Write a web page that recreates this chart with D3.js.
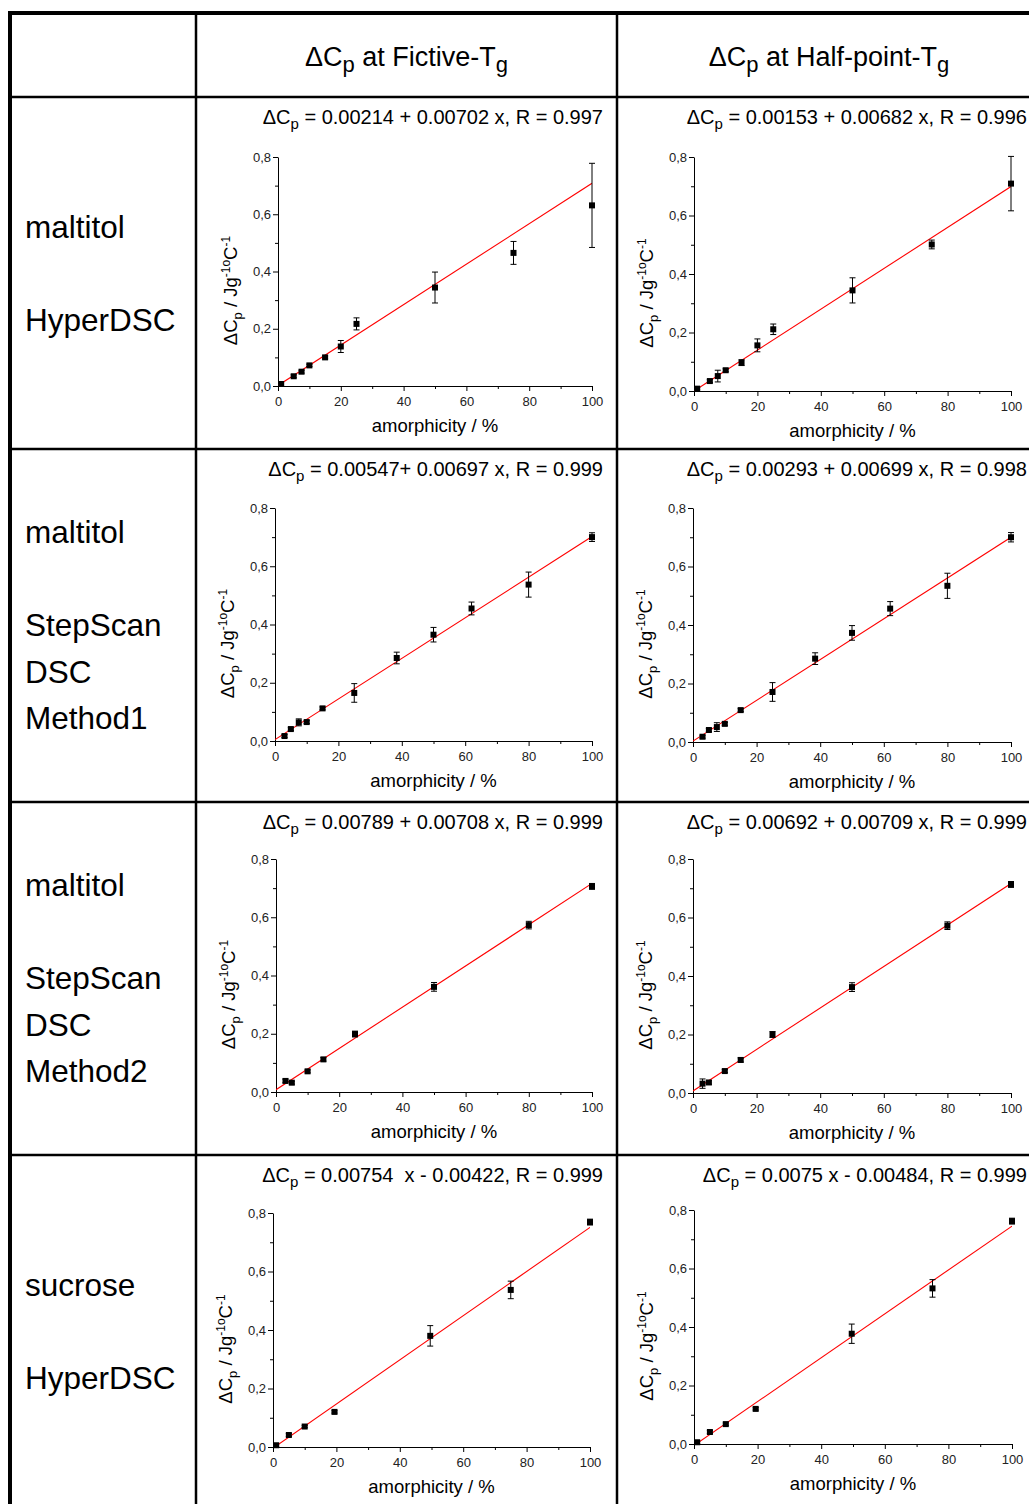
<!DOCTYPE html>
<html lang="en">
<head>
<meta charset="UTF-8">
<title>dCp vs amorphicity</title>
<script src="https://d3js.org/d3.v7.min.js"></script>
<style>
  body { margin: 0; background: #fff; }
  svg { display: block; font-family: "Liberation Sans", Arial, sans-serif; }
  text { white-space: pre; }
</style>
</head>
<body>
<div id="chart"></div>
<script>
// column heads and row labels
var columnHeads = ["Fictive", "Half-point"];
var rowLabels = [
    ["maltitol", "", "HyperDSC"],
    ["maltitol", "", "StepScan", "DSC", "Method1"],
    ["maltitol", "", "StepScan", "DSC", "Method2"],
    ["sucrose", "", "HyperDSC"]
];

// fit equations printed above each plot (after "ΔCp")
var fitTexts = [
    " = 0.00214 + 0.00702 x, R = 0.997", " = 0.00153 + 0.00682 x, R = 0.996",
    " = 0.00547+ 0.00697 x, R = 0.999", " = 0.00293 + 0.00699 x, R = 0.998",
    " = 0.00789 + 0.00708 x, R = 0.999", " = 0.00692 + 0.00709 x, R = 0.999",
    " = 0.00754  x - 0.00422, R = 0.999", " = 0.0075 x - 0.00484, R = 0.999"
];
// red fit line, value at 0 % and at 100 %
var fitAt0 = [0.002, 0.000, 0.005, 0.003, 0.008, 0.007, -0.004, -0.005];
var fitAt100 = [0.708, 0.699, 0.702, 0.700, 0.716, 0.716, 0.751, 0.745];

// maltitol HyperDSC
var maltHyperX = [1, 5, 7.5, 10, 15, 20, 25, 50, 75, 100];
var maltHyperFictiveY = [0.007, 0.034, 0.050, 0.072, 0.100, 0.138, 0.217, 0.344, 0.465, 0.631];
var maltHyperFictiveErr = [0.004, 0.005, 0.005, 0.004, 0.005, 0.021, 0.021, 0.054, 0.040, 0.147];
var maltHyperHalfY = [0.008, 0.034, 0.051, 0.071, 0.097, 0.156, 0.211, 0.344, 0.501, 0.709];
var maltHyperHalfErr = [0.004, 0.005, 0.020, 0.005, 0.010, 0.022, 0.018, 0.043, 0.015, 0.093];

// maltitol StepScan Method1
var maltStep1X = [3, 5, 7.5, 10, 15, 25, 38.4, 50, 62, 80, 100];
var maltStep1FictiveY = [0.017, 0.041, 0.064, 0.065, 0.112, 0.165, 0.285, 0.365, 0.455, 0.537, 0.700];
var maltStep1FictiveErr = [0.005, 0.005, 0.012, 0.005, 0.005, 0.032, 0.020, 0.025, 0.022, 0.043, 0.015];
var maltStep1HalfY = [0.018, 0.041, 0.051, 0.062, 0.109, 0.171, 0.285, 0.373, 0.456, 0.534, 0.700];
var maltStep1HalfErr = [0.005, 0.005, 0.015, 0.005, 0.005, 0.032, 0.020, 0.025, 0.024, 0.043, 0.016];

// maltitol StepScan Method2
var maltStep2X = [3, 5, 10, 15, 25, 50, 80, 100];
var maltStep2FictiveY = [0.038, 0.032, 0.071, 0.112, 0.199, 0.361, 0.573, 0.706];
var maltStep2FictiveErr = [0.006, 0.005, 0.005, 0.006, 0.010, 0.015, 0.013, 0.010];
var maltStep2HalfY = [0.032, 0.036, 0.075, 0.113, 0.200, 0.362, 0.572, 0.713];
var maltStep2HalfErr = [0.016, 0.006, 0.005, 0.007, 0.010, 0.015, 0.013, 0.010];

// sucrose HyperDSC
var sucHyperX = [1, 5, 10, 19.4, 49.6, 75, 100];
var sucHyperFictiveY = [0.006, 0.041, 0.070, 0.120, 0.380, 0.537, 0.769];
var sucHyperFictiveErr = [0.004, 0.005, 0.004, 0.004, 0.035, 0.030, 0.010];
var sucHyperHalfY = [0.006, 0.041, 0.068, 0.120, 0.377, 0.532, 0.762];
var sucHyperHalfErr = [0.004, 0.005, 0.004, 0.004, 0.033, 0.030, 0.010];

// axes
var xTicks = [0, 20, 40, 60, 80, 100];
var xMinor = [10, 30, 50, 70, 90];
var yTicks = [0, 0.2, 0.4, 0.6, 0.8];
var yMinor = [0.1, 0.3, 0.5, 0.7];

var panels = [
    { x: maltHyperX, y: maltHyperFictiveY, err: maltHyperFictiveErr },
    { x: maltHyperX, y: maltHyperHalfY, err: maltHyperHalfErr },
    { x: maltStep1X, y: maltStep1FictiveY, err: maltStep1FictiveErr },
    { x: maltStep1X, y: maltStep1HalfY, err: maltStep1HalfErr },
    { x: maltStep2X, y: maltStep2FictiveY, err: maltStep2FictiveErr },
    { x: maltStep2X, y: maltStep2HalfY, err: maltStep2HalfErr },
    { x: sucHyperX, y: sucHyperFictiveY, err: sucHyperFictiveErr },
    { x: sucHyperX, y: sucHyperHalfY, err: sucHyperHalfErr }
];

// layout
var WIDTH = 1029, HEIGHT = 1504;
var colEdges = [196, 617, 1041];
var rowTops = [97, 449, 802, 1155];
var ROW_H = 352.5;
// plot area: left, top, right, bottom
var plotBoxes = [
    [278, 157, 592, 386], [694, 157, 1011, 391],
    [275, 508, 592, 741], [693, 508, 1011, 742],
    [276, 859, 592, 1092], [693, 859, 1011, 1093],
    [273, 1213, 590, 1447], [694, 1210, 1012, 1444]
];

var comma = d3.formatLocale({ decimal: ",", thousands: ".", grouping: [3], currency: ["", ""] });

var svg = d3.select("#chart").append("svg")
    .attr("width", WIDTH)
    .attr("height", HEIGHT);

svg.append("rect").attr("width", WIDTH).attr("height", HEIGHT).attr("fill", "#fff");

// table grid
var grid = svg.append("g").attr("stroke", "#000");
grid.append("line").attr("x1", 8).attr("x2", WIDTH).attr("y1", 13).attr("y2", 13).attr("stroke-width", 4);
grid.append("line").attr("x1", 10).attr("x2", 10).attr("y1", 11).attr("y2", HEIGHT).attr("stroke-width", 4);
colEdges.slice(0, 2).forEach(function (cx) {
    grid.append("line").attr("x1", cx).attr("x2", cx).attr("y1", 13).attr("y2", HEIGHT).attr("stroke-width", 2.5);
});
rowTops.forEach(function (ry) {
    grid.append("line").attr("x1", 10).attr("x2", WIDTH).attr("y1", ry).attr("y2", ry).attr("stroke-width", 2.5);
});

// column heads
columnHeads.forEach(function (h, i) {
    var t = svg.append("text")
        .attr("x", (colEdges[i] + colEdges[i + 1]) / 2)
        .attr("y", 66)
        .attr("text-anchor", "middle")
        .attr("font-size", 27);
    t.append("tspan").text("ΔC");
    t.append("tspan").attr("font-size", 22).attr("dy", 6).text("p");
    t.append("tspan").attr("dy", -6).text(" at " + h + "-T");
    t.append("tspan").attr("font-size", 22).attr("dy", 6).text("g");
});

// row labels
rowLabels.forEach(function (lines, r) {
    var mid = rowTops[r] + ROW_H / 2;
    var first = mid - (lines.length - 1) / 2 * 46.5;
    svg.append("g").selectAll("text")
        .data(lines).enter()
        .append("text")
        .attr("x", 25)
        .attr("y", function (d, k) { return first + k * 46.5 + 11; })
        .attr("font-size", 31.5)
        .text(function (d) { return d; });
});

svg.append("defs").selectAll("clipPath")
    .data(plotBoxes).enter()
    .append("clipPath")
    .attr("id", function (d, i) { return "clip" + i; })
    .append("rect")
    .attr("x", function (d) { return d[0]; })
    .attr("y", function (d) { return d[1]; })
    .attr("width", function (d) { return d[2] - d[0]; })
    .attr("height", function (d) { return d[3] - d[1]; });

function styleAxis(sel) {
    sel.attr("font-family", null).attr("font-size", 13);
    sel.selectAll("text").attr("fill", "#222");
    sel.selectAll("line").attr("stroke", "#000");
    sel.select(".domain").attr("stroke", "#000");
}

panels.forEach(function (p, i) {
    var box = plotBoxes[i];
    var row = Math.floor(i / 2), col = i % 2;
    var x = d3.scaleLinear().domain([0, 100]).range([box[0], box[2]]);
    var y = d3.scaleLinear().domain([0, 0.8]).range([box[3], box[1]]);
    var g = svg.append("g");

    // title with fit equation
    var title = g.append("text")
        .attr("x", colEdges[col + 1] - 14)
        .attr("y", rowTops[row] + 27)
        .attr("text-anchor", "end")
        .attr("font-size", 20);
    title.append("tspan").text("ΔC");
    title.append("tspan").attr("font-size", 15).attr("dy", 5).text("p");
    title.append("tspan").attr("dy", -5).text(fitTexts[i]);

    // minor ticks
    g.append("g").attr("transform", "translate(0," + box[3] + ")")
        .call(d3.axisBottom(x).tickValues(xMinor).tickSize(3).tickFormat(""))
        .call(function (s) { s.select(".domain").remove(); s.selectAll("line").attr("stroke", "#000"); });
    g.append("g").attr("transform", "translate(" + box[0] + ",0)")
        .call(d3.axisLeft(y).tickValues(yMinor).tickSize(3).tickFormat(""))
        .call(function (s) { s.select(".domain").remove(); s.selectAll("line").attr("stroke", "#000"); });

    // major axes
    g.append("g").attr("transform", "translate(0," + box[3] + ")")
        .call(d3.axisBottom(x).tickValues(xTicks).tickSize(5).tickSizeOuter(0).tickPadding(6).tickFormat(d3.format("d")))
        .call(styleAxis);
    g.append("g").attr("transform", "translate(" + box[0] + ",0)")
        .call(d3.axisLeft(y).tickValues(yTicks).tickSize(5).tickSizeOuter(0).tickPadding(2).tickFormat(comma.format(".1f")))
        .call(styleAxis);

    // axis titles
    g.append("text")
        .attr("x", (box[0] + box[2]) / 2)
        .attr("y", box[3] + 46)
        .attr("text-anchor", "middle")
        .attr("font-size", 18.5)
        .text("amorphicity / %");

    var yl = g.append("text")
        .attr("transform", "translate(" + (box[0] - 41) + "," + ((box[1] + box[3]) / 2 + 19) + ")rotate(-90)")
        .attr("text-anchor", "middle")
        .attr("font-size", 18.5);
    yl.append("tspan").text("ΔC");
    yl.append("tspan").attr("font-size", 13).attr("dy", 5).text("p");
    yl.append("tspan").attr("dy", -5).text(" / Jg");
    yl.append("tspan").attr("font-size", 12).attr("dy", -7).text("-1o");
    yl.append("tspan").attr("dy", 7).text("C");
    yl.append("tspan").attr("font-size", 12).attr("dy", -7).text("-1");

    // fit line
    g.append("path")
        .datum([[0, fitAt0[i]], [100, fitAt100[i]]])
        .attr("clip-path", "url(#clip" + i + ")")
        .attr("fill", "none")
        .attr("stroke", "#ff0000")
        .attr("stroke-width", 1.1)
        .attr("d", d3.line().x(function (d) { return x(d[0]); }).y(function (d) { return y(d[1]); }));

    var pts = p.x.map(function (v, k) { return { x: v, y: p.y[k], e: p.err[k] }; });

    // error bars
    var eb = g.append("g").attr("stroke", "#000").attr("stroke-width", 1);
    eb.selectAll("line.v").data(pts).enter().append("line")
        .attr("x1", function (d) { return x(d.x); })
        .attr("x2", function (d) { return x(d.x); })
        .attr("y1", function (d) { return y(d.y - d.e); })
        .attr("y2", function (d) { return y(d.y + d.e); });
    [-1, 1].forEach(function (sgn) {
        eb.selectAll("line.c" + sgn).data(pts).enter().append("line")
            .attr("x1", function (d) { return x(d.x) - 3; })
            .attr("x2", function (d) { return x(d.x) + 3; })
            .attr("y1", function (d) { return y(d.y + sgn * d.e); })
            .attr("y2", function (d) { return y(d.y + sgn * d.e); });
    });

    // square markers
    g.selectAll("rect.pt").data(pts).enter().append("rect")
        .attr("x", function (d) { return x(d.x) - 3; })
        .attr("y", function (d) { return y(d.y) - 3; })
        .attr("width", 6)
        .attr("height", 6)
        .attr("fill", "#000");
});
</script>
</body>
</html>
